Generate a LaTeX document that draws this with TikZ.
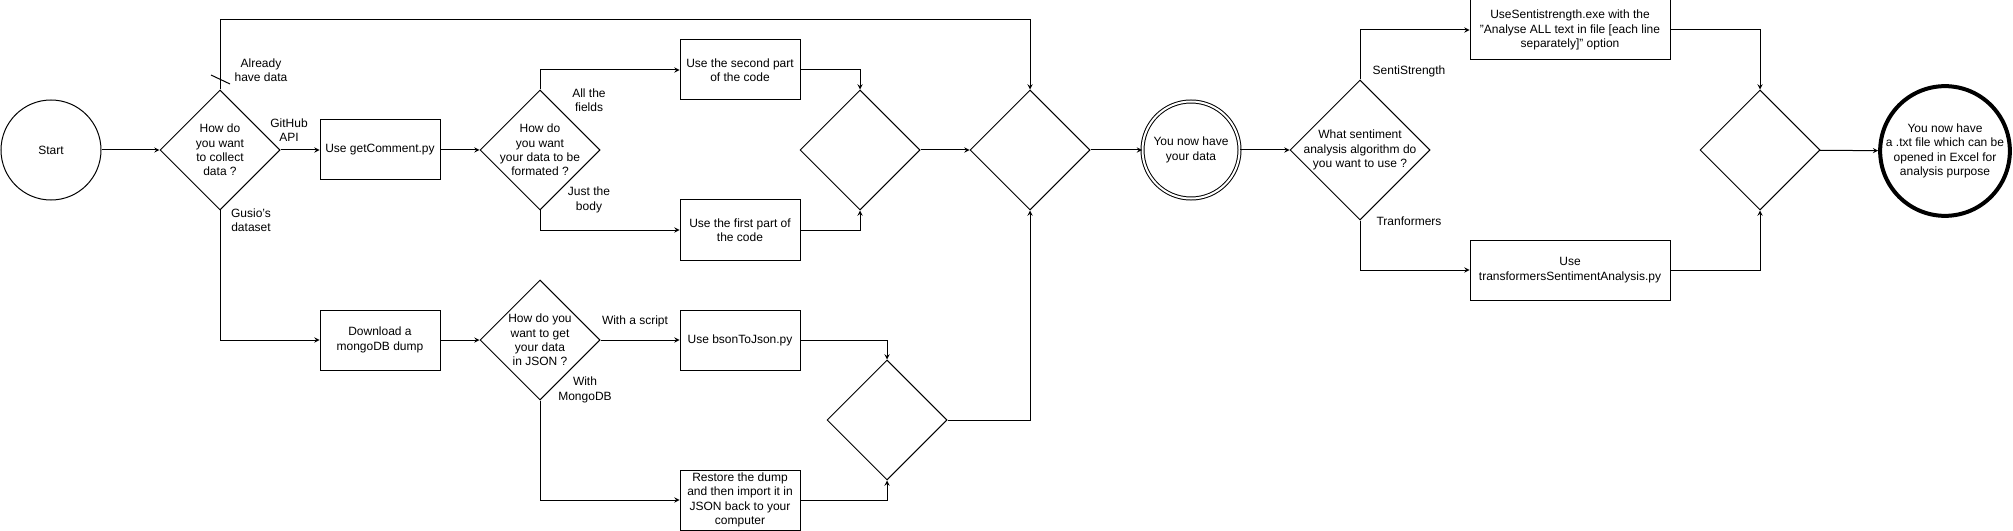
\documentclass[tikz,border=0pt]{standalone}
\usepackage{fontspec}
\setmainfont{Liberation Sans}
\usetikzlibrary{arrows,shapes,positioning}

\begin{document}
\begin{tikzpicture}
			[x=0.75pt, y=-0.75pt, >=stealth, line width=0.75pt,
			font=\fontsize{9}{10.8}\selectfont,
			every node/.style={align=center},
			action/.style={rectangle, draw, minimum width=90pt, minimum height=45pt, inner sep=1pt},
			wideaction/.style={action, minimum width=150pt},
			choice/.style={diamond, draw, minimum width=90pt, minimum height=90pt, inner sep=0pt},
			bigchoice/.style={choice, minimum width=105pt, minimum height=105pt},
			terminal/.style={circle, draw, minimum size=75pt, inner sep=0pt},
			branch/.style={inner sep=1pt},]
			\useasboundingbox (0,0) rectangle (2013,531);
			\coordinate (topline) at (0,20);

          	\node[terminal] (start) at (51,150) {Start};
          	\node[choice, label={center:How do\\you want\\to collect\\data ?}] (d1) at (220,150) {};
          	\node[action] (getcomment) at (380,150) {Use getComment.py};
          	\node[choice, label={center:How do\\you want\\your data to be\\formated ?}] (d2) at (540,150) {};
          	\node[action] (second) at (740,70) {Use the second part\\of the code};
          	\node[action] (first) at (740,230) {Use the first part of\\the code};
          	\node[choice] (mergeA) at (860,150) {};
          	\node[choice] (mergeB) at (1030,150) {};

          	\node[action] (download) at (380,340) {Download a\\mongoDB dump};
          	\node[choice, label={center:How do you\\want to get\\your data\\in JSON ?}] (d5) at (540,340) {};
          	\node[action] (bson) at (740,340) {Use bsonToJson.py};
          	\node[action] (restore) at (740,500) {Restore the dump\\and then import it in\\JSON back to your\\computer};
          	\node[choice] (mergeC) at (887,420) {};

          	\node[terminal, minimum size=72.75pt, double, double distance=1.5pt] (havedata) at (1191,150) {You now have\\your data};
          	\node[bigchoice, label={center:What sentiment\\analysis algorithm do\\you want to use ?}] (d3) at (1360,150) {};
          	\node[wideaction] (senti) at (1570,30) {UseSentistrength.exe with the\\"Analyse ALL text in file [each line\\separately]" option};
          	\node[wideaction] (transf) at (1570,270) {Use\\transformersSentimentAnalysis.py};
          	\node[choice] (mergeD) at (1760,150) {};
          	\node[terminal, minimum size=94pt, line width=3pt] (endnode) at (1945,151) {You now have\\a .txt file which can be\\opened in Excel for\\analysis purpose};

          	\node[branch] (already) at (261,70) {Already\\have data};
          	\node[branch] (github) at (289,130) {GitHub\\API};
          	\node[branch] (gusio) at (251,220) {Gusio's\\dataset};
          	\node[branch] (allfields) at (589,100) {All the\\fields};
          	\node[branch] (justbody) at (589,200) {Just the\\body};
          	\node[branch] (script) at (635,321) {With a script};
          	\node[branch] (mongo) at (585,390) {With\\MongoDB};
          	\node[branch] (sentilbl) at (1409,71) {SentiStrength};
          	\node[branch] (translbl) at (1409,221) {Tranformers};

            \draw[->] (start) -- (d1);
            \draw[->] (d1) -- (getcomment);
            \draw[->] (getcomment) -- (d2);
            \draw[->] (d2.north) |- (second);
            \draw[->] (d2.south) |- (first);
            \draw[->] (second) -| (mergeA);
            \draw[->] (first) -| (mergeA);
            \draw[->] (mergeA) -- (mergeB);
            \draw[->] (d1.north) -- (d1.north |- topline) -| (mergeB.north);
            \draw (211,75) -- (230,84);

            \draw[->] (d1.south) |- (download);
            \draw[->] (download) -- (d5);
            \draw[->] (d5) -- (bson);
            \draw[->] (d5.south) |- (restore);
            \draw[->] (bson) -| (mergeC);
            \draw[->] (restore) -| (mergeC);
            \draw[->] (mergeC) -| (mergeB);

            \draw[->] (mergeB) -- (havedata);
            \draw[->] (havedata) -- (d3);
            \draw[->] (d3.north) |- (senti);
            \draw[->] (d3.south) |- (transf);
            \draw[->] (senti) -| (mergeD);
            \draw[->] (transf) -| (mergeD);
            \draw[->] (mergeD) -- (endnode);
			\end{tikzpicture}
\end{document}
